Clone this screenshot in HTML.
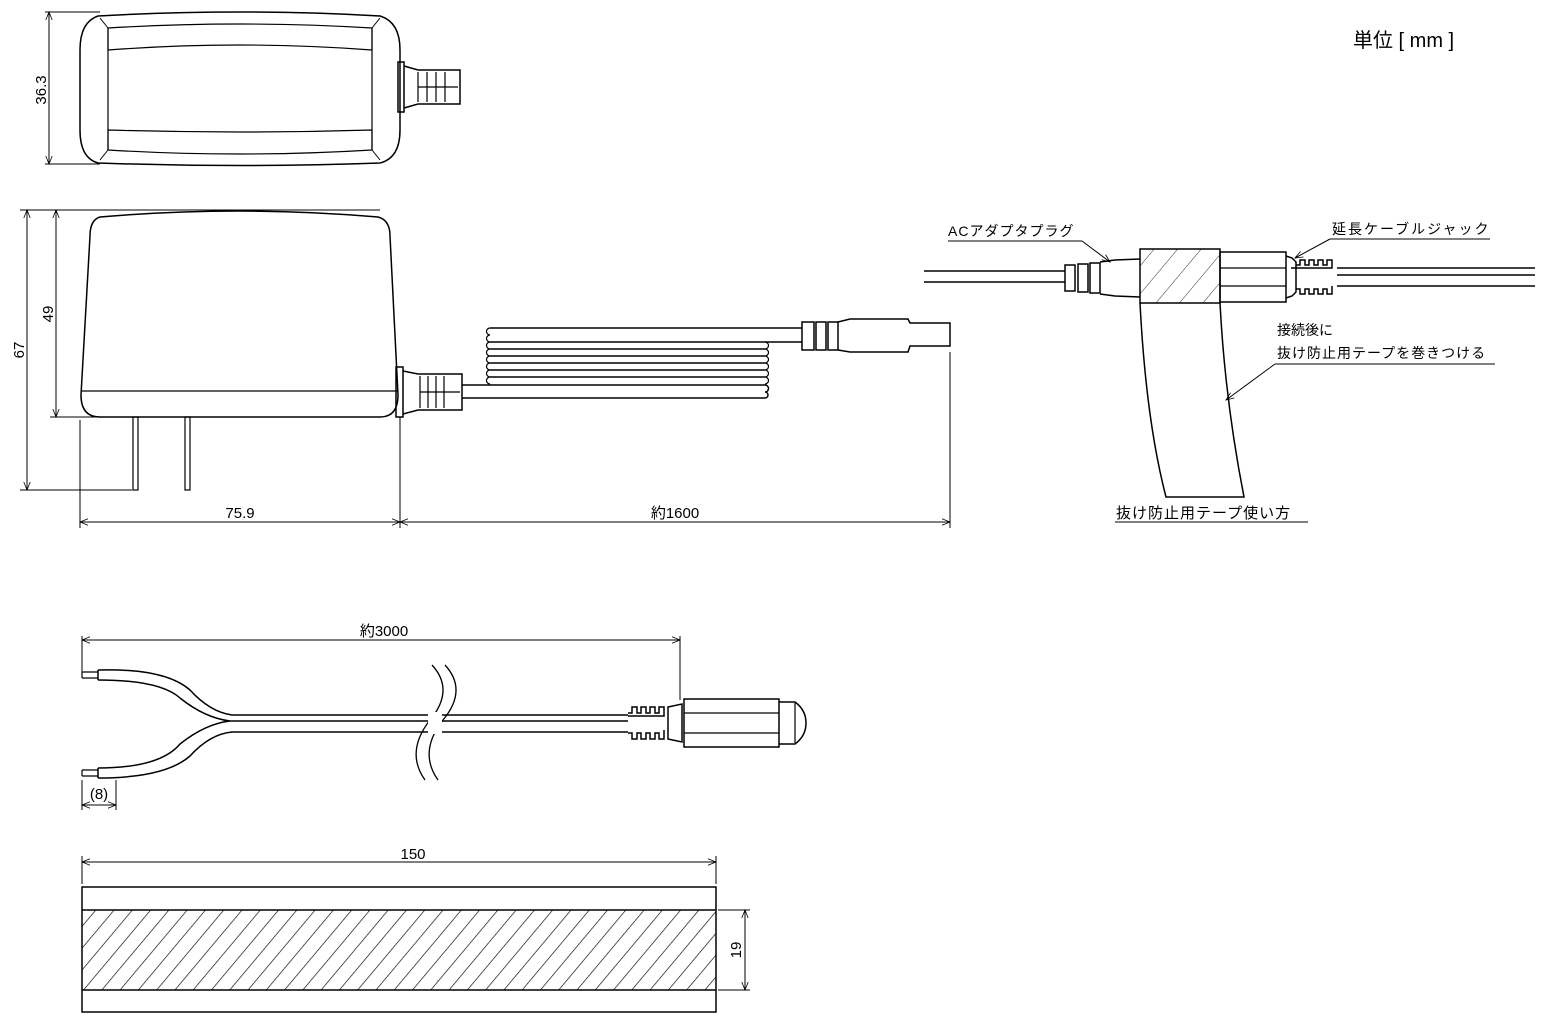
<!DOCTYPE html>
<html><head><meta charset="utf-8"><style>
html,body{margin:0;padding:0;background:#fff;}
svg{display:block;}
text{font-family:"Liberation Sans","Noto Sans CJK JP",sans-serif;fill:#000;}
</style></head><body>
<svg width="1544" height="1021" viewBox="0 0 1544 1021" xmlns="http://www.w3.org/2000/svg">
<defs>
<marker id="a" viewBox="0 0 10 10" refX="10" refY="5" markerWidth="10" markerHeight="8" orient="auto-start-reverse" markerUnits="userSpaceOnUse"><path d="M0,1 L10,5 L0,9" fill="none" stroke="#000" stroke-width="1"/></marker>
<pattern id="h" patternUnits="userSpaceOnUse" width="14" height="14" patternTransform="rotate(40)"><line x1="0" y1="0" x2="0" y2="14" stroke="#000" stroke-width="1.3"/></pattern>
<pattern id="h2" patternUnits="userSpaceOnUse" width="18" height="18" patternTransform="rotate(40)"><line x1="0" y1="0" x2="0" y2="18" stroke="#333" stroke-width="1"/></pattern>
</defs>
<g fill="none" stroke="#000" stroke-width="1.5">
<path d="M98,16 Q240,8 380,16 Q400,22 400,50 L400,130 Q400,158 380,163 Q240,168 98,163 Q80,158 80,130 L80,50 Q80,22 98,16 Z"/>
<path d="M108,28 Q240,20 372,28 L372,50 Q240,40 108,50 Z" stroke-width="1.2"/>
<path d="M108,150 Q240,158 372,150 L372,130 Q240,134 108,130 Z" stroke-width="1.2"/>
<line x1="108" y1="28" x2="108" y2="150" stroke-width="1.2"/><line x1="372" y1="28" x2="372" y2="150" stroke-width="1.2"/>
<path d="M100,18 L108,28 M100,160 L108,150 M380,18 L372,28 M380,160 L372,150" stroke-width="1"/>
<rect x="398" y="62" width="6" height="50"/>
<path d="M404,66 L418,70 L460,70 L460,104 L418,104 L404,108"/>
<path d="M418,72 v30 M427,72 v30 M436,72 v30 M445,72 v30 M418,87 h40" stroke-width="1.2"/>
<line x1="45" y1="12" x2="100" y2="12" stroke-width="1"/><line x1="45" y1="164" x2="100" y2="164" stroke-width="1"/>
<line x1="49" y1="12" x2="49" y2="164" stroke-width="1" marker-start="url(#a)" marker-end="url(#a)"/>
<path d="M100,217 Q240,205 378,217 Q390,220 390,236 L398,395 Q398,417 380,417 L100,417 Q81,417 81,395 L90,236 Q90,220 100,217 Z"/>
<line x1="81" y1="391" x2="398" y2="391" stroke-width="1.2"/>
<rect x="133" y="417" width="5" height="73" stroke-width="1.2"/><rect x="185" y="417" width="5" height="73" stroke-width="1.2"/>
<rect x="396" y="367" width="7" height="50"/>
<path d="M403,371 L418,374 L462,374 L462,410 L418,410 L403,414"/>
<path d="M420,376 v32 M428,376 v32 M436,376 v32 M444,376 v32 M420,392 h40" stroke-width="1.2"/>
<path d="M462,385 H765 M462,398 H765 M765,385 a3,3 0 0 1 0,7 M765,392 a3,3 0 0 1 0,6"/>
<path d="M490,328 H802 M490,342 H802" />
<path d="M490,328 a3.5,3.5 0 0 0 0,7 a3.5,3.5 0 0 0 0,7 a3.5,3.5 0 0 0 0,7 a3.5,3.5 0 0 0 0,7 a3.5,3.5 0 0 0 0,7 a3.5,3.5 0 0 0 0,7 a3.5,3.5 0 0 0 0,7 a3.5,3.5 0 0 0 0,7" stroke-width="1.2"/>
<path d="M765,342 a3.5,3.5 0 0 1 0,7 a3.5,3.5 0 0 1 0,7 a3.5,3.5 0 0 1 0,7 a3.5,3.5 0 0 1 0,7 a3.5,3.5 0 0 1 0,7 a3.5,3.5 0 0 1 0,7" stroke-width="1.2"/>
<path d="M490,349 H765 M490,356 H765 M490,363 H765 M490,370 H765 M490,377 H765" stroke-width="1.6"/>
<path d="M802,322 h12 v28 h-12 z M816,322 h10 v28 h-10 z M828,322 h10 v28 h-10 z"/>
<path d="M838,322 L850,319 L908,319 L910,323 L950,323 L950,346 L910,346 L908,352 L850,352 L838,350"/>
<line x1="20" y1="210" x2="380" y2="210" stroke-width="1"/>
<line x1="20" y1="490" x2="132" y2="490" stroke-width="1"/>
<line x1="50" y1="417" x2="100" y2="417" stroke-width="1"/>
<line x1="27" y1="210" x2="27" y2="490" stroke-width="1" marker-start="url(#a)" marker-end="url(#a)"/>
<line x1="56" y1="210" x2="56" y2="417" stroke-width="1" marker-start="url(#a)" marker-end="url(#a)"/>
<line x1="80" y1="420" x2="80" y2="528" stroke-width="1"/>
<line x1="400" y1="417" x2="400" y2="528" stroke-width="1"/>
<line x1="950" y1="352" x2="950" y2="528" stroke-width="1"/>
<line x1="80" y1="522" x2="400" y2="522" stroke-width="1" marker-start="url(#a)" marker-end="url(#a)"/>
<line x1="400" y1="522" x2="950" y2="522" stroke-width="1" marker-start="url(#a)" marker-end="url(#a)"/>
<path d="M924,271 H1065 M924,282 H1065"/>
<path d="M1065,265 h10 v26 h-10 z M1078,264 h10 v28 h-10 z M1090,263 h10 v30 h-10 z"/>
<path d="M1100,262 L1115,260 L1140,259 M1100,294 L1115,296 L1140,297"/>
<rect x="1140" y="249" width="80" height="54" fill="url(#h2)"/>
<rect x="1220" y="252" width="66" height="50"/>
<line x1="1220" y1="268" x2="1286" y2="268" stroke-width="1.2"/><line x1="1220" y1="286" x2="1286" y2="286" stroke-width="1.2"/>
<path d="M1286,256 L1292,258 L1296,262 L1296,292 L1292,296 L1286,298"/>
<path d="M1296,265 h4 v-5 h5 v5 h4 v-5 h5 v5 h4 v-5 h5 v5 h4 v-5 h5 v8 h-41 M1296,289 h4 v5 h5 v-5 h4 v5 h5 v-5 h4 v5 h5 v-5 h4 v5 h5 v-8"/>
<path d="M1337,268 H1535 M1337,275 H1535 M1337,286 H1535"/>
<path d="M1140,303 Q1146,420 1166,497 L1244,497 Q1225,400 1220,303"/>
<line x1="948" y1="241" x2="1082" y2="241" stroke-width="1"/>
<path d="M1082,241 L1110,262" stroke-width="1" marker-end="url(#a)"/>
<line x1="1330" y1="239" x2="1490" y2="239" stroke-width="1"/>
<path d="M1330,239 L1295,258" stroke-width="1" marker-end="url(#a)"/>
<line x1="1275" y1="364" x2="1495" y2="364" stroke-width="1"/>
<path d="M1275,364 L1226,400" stroke-width="1" marker-end="url(#a)"/>
<line x1="1115" y1="522" x2="1308" y2="522" stroke-width="1"/>
<line x1="82" y1="636" x2="82" y2="672" stroke-width="1"/>
<line x1="680" y1="636" x2="680" y2="700" stroke-width="1"/>
<line x1="82" y1="640" x2="680" y2="640" stroke-width="1" marker-start="url(#a)" marker-end="url(#a)"/>
<path d="M82,672 H98 M82,678 H98 M82,672 V678 M82,770 H98 M82,776 H98 M82,770 V776" stroke-width="1.2"/>
<path d="M98,670 V680 M98,768 V778"/>
<path d="M98,670 Q165,668 190,690 Q210,712 232,715 H628 M98,680 Q160,680 180,698 Q205,718 230,721 M230,721 Q205,724 180,744 Q160,768 98,768 M98,778 Q165,778 190,756 Q210,734 232,732 H628 M230,721 H628"/>
<path d="M432,665 Q455,690 430,720 Q405,752 425,780 M445,665 Q468,690 443,720 Q418,752 438,780" stroke-width="1.3"/>
<rect x="428" y="712" width="14" height="22" fill="#fff" stroke="none"/>
<path d="M628,713 h4 v-6 h5 v6 h4 v-6 h5 v6 h4 v-6 h5 v6 h4 v-6 h5 v9 h-36 M628,733 h4 v6 h5 v-6 h4 v6 h5 v-6 h4 v6 h5 v-6 h4 v6 h5 v-9"/>
<path d="M668,707 L682,704 L682,742 L668,739 Z"/>
<rect x="684" y="699" width="95" height="48"/>
<line x1="684" y1="713" x2="779" y2="713" stroke-width="1.2"/><line x1="684" y1="733" x2="779" y2="733" stroke-width="1.2"/>
<path d="M779,702 L795,702 Q806,710 806,723 Q806,736 795,744 L779,744"/>
<line x1="795" y1="703" x2="795" y2="743" stroke-width="1.2"/>
<line x1="82" y1="780" x2="82" y2="810" stroke-width="1"/><line x1="116" y1="780" x2="116" y2="810" stroke-width="1"/>
<line x1="82" y1="805" x2="116" y2="805" stroke-width="1" marker-start="url(#a)" marker-end="url(#a)"/>
<rect x="82" y="910" width="634" height="80" fill="url(#h)" stroke="none"/>
<rect x="82" y="887" width="634" height="125"/>
<line x1="82" y1="910" x2="716" y2="910"/><line x1="82" y1="990" x2="716" y2="990"/>
<line x1="82" y1="856" x2="82" y2="884" stroke-width="1"/><line x1="716" y1="856" x2="716" y2="884" stroke-width="1"/>
<line x1="82" y1="862" x2="716" y2="862" stroke-width="1" marker-start="url(#a)" marker-end="url(#a)"/>
<line x1="718" y1="910" x2="750" y2="910" stroke-width="1"/><line x1="718" y1="990" x2="750" y2="990" stroke-width="1"/>
<line x1="745" y1="910" x2="745" y2="990" stroke-width="1" marker-start="url(#a)" marker-end="url(#a)"/>
</g>
<g font-size="15">
<text transform="translate(46,90) rotate(-90)" text-anchor="middle">36.3</text>
<text transform="translate(24,350) rotate(-90)" text-anchor="middle">67</text>
<text transform="translate(53,314) rotate(-90)" text-anchor="middle">49</text>
<text x="240" y="518" text-anchor="middle">75.9</text>
<text x="675" y="518" text-anchor="middle">約1600</text>
<text x="384" y="636" text-anchor="middle">約3000</text>
<text x="99" y="799" text-anchor="middle">(8)</text>
<text x="413" y="859" text-anchor="middle">150</text>
<text transform="translate(741,950) rotate(-90)" text-anchor="middle">19</text>
<text x="948" y="236" font-size="14" letter-spacing="1">ACアダプタプラグ</text>
<text x="1332" y="234" font-size="14" letter-spacing="2">延長ケーブルジャック</text>
<text x="1277" y="335" font-size="14">接続後に</text>
<text x="1277" y="358" font-size="14" letter-spacing="1">抜け防止用テープを巻きつける</text>
<text x="1116" y="518" font-size="15" letter-spacing="1">抜け防止用テープ使い方</text>
<text x="1353" y="47" font-size="20">単位 [ mm ]</text>
</g>
</svg>
</body></html>
